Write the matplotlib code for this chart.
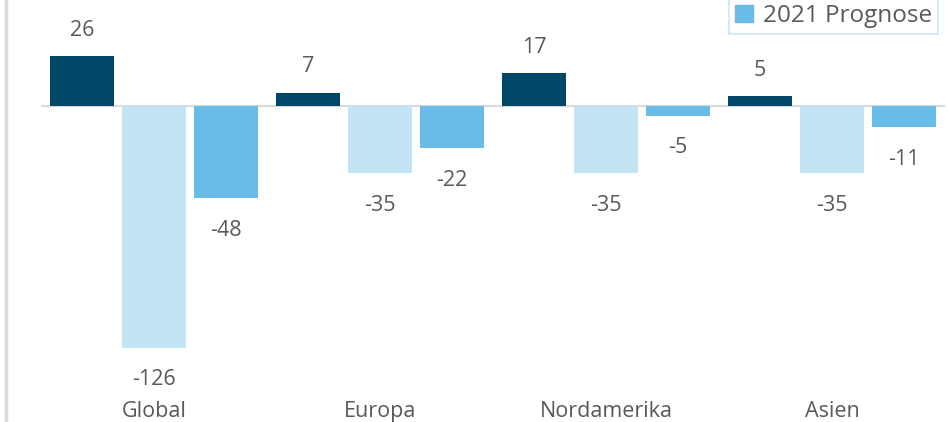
import numpy as np
import matplotlib
matplotlib.use('Agg')
import matplotlib.pyplot as plt
from matplotlib.patches import Patch
from matplotlib.lines import Line2D

# data
regions = ['Global', 'Europa', 'Nordamerika', 'Asien']
series_names = ['2019', '2020', '2021 Prognose']
vals_2019 = [26, 7, 17, 5]
vals_2020 = [-126, -35, -35, -35]
vals_2021 = [-48, -22, -5, -11]
colors = ['#00476A', '#C3E4F4', '#68BCE5']

plt.rcParams['font.family'] = ['Open Sans', 'DejaVu Sans']
text_color = '#595959'

W, H = 948, 422
fig = plt.figure(figsize=(W / 100, H / 100), dpi=100)
# axes placed in pixel terms: x 41..945, y 0..401
ax = fig.add_axes([41 / W, 1 - 401 / H, (945 - 41) / W, 401 / H])

x = np.arange(len(regions))
width = 64 / 226
offset = 72 / 226
all_series = [vals_2019, vals_2020, vals_2021]
for i, (vals, col) in enumerate(zip(all_series, colors)):
    pos = x + (i - 1) * offset
    ax.bar(pos, vals, width=width, color=col, zorder=2)
    for px, v in zip(pos, vals):
        dy = 26 if v >= 0 else -32
        ax.annotate(str(v), (px, v), xytext=(0, dy), textcoords='offset pixels',
                    ha='center', va='center', fontsize=15.5, color=text_color)

ax.set_xlim(-0.5, 3.5)
ax.set_ylim(-153.6, 55.2)
ax.axhline(0, color='#D9D9D9', lw=1.5, zorder=1)
for s in ax.spines.values():
    s.set_visible(False)
ax.set_yticks([])
ax.set_xticks(x)
ax.set_xticklabels(regions, fontsize=15.5, color=text_color)
ax.tick_params(axis='x', length=0, pad=0)

# chart frame on the left
fig.add_artist(Line2D([5.5 / W, 5.5 / W], [0, 1], color='#D9D9D9', lw=2.5))

# legend, top part falls outside the cropped picture
leg = fig.legend([Patch(color=colors[2])], [series_names[2]], loc='lower right',
                 bbox_to_anchor=(938 / W, 1 - 34 / H), frameon=True, fontsize=17.5,
                 handlelength=0.75, handleheight=0.75, handletextpad=0.4,
                 borderpad=0.25, borderaxespad=0, fancybox=False)
leg.get_frame().set_edgecolor('#BDE0F3')
leg.get_frame().set_linewidth(1.2)
for t in leg.get_texts():
    t.set_color(text_color)

fig.savefig('out.png', dpi=100)
